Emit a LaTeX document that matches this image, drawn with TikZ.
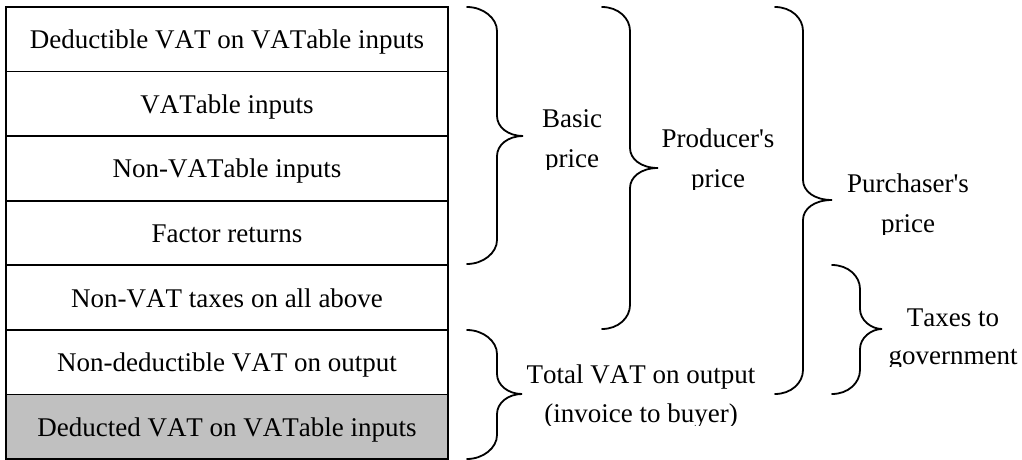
\documentclass[tikz,border=0pt]{standalone}
\usepackage{fontspec}
\setmainfont{Liberation Serif}[Kerning=Off]
\definecolor{shade}{HTML}{C0C0C0}

% two centred lines whose baseline is that of the first line
\newcommand\twoline[2]{\begin{tabular}[t]{@{}c@{}}#1\\#2\end{tabular}}

% right-opening curly brace: x of ends, x of spine, x of tip, y top, y tip, y bottom
\newcommand\bracepath[6]{%
  \draw[bracestroke] (#1,#4) .. controls ({#1+16},#4) and (#2,{#4+11}) .. (#2,{#4+24})
    -- (#2,{#5-20}) .. controls (#2,{#5-9}) and ({#2+11},#5) .. (#3,#5)
    .. controls ({#2+11},#5) and (#2,{#5+9}) .. (#2,{#5+20})
    -- (#2,{#6-24}) .. controls (#2,{#6-11}) and ({#1+16},#6) .. (#1,#6);}

\begin{document}
\begin{tikzpicture}[x=1pt,y=-1pt,
  row/.style={draw, line width=1.6pt, minimum width=442pt, minimum height=64.57pt,
    inner sep=0pt, text height=19pt, text depth=0pt, font=\fontsize{27}{32}\selectfont},
  lbl/.style={anchor=base, inner sep=0pt, font=\fontsize{27}{40}\selectfont},
  bracestroke/.style={line width=1.8pt, line cap=round}]
\useasboundingbox (0,0) rectangle (1022,460);

% stacked price components
\node[row] (r1) at (227,39.29)  {Deductible VAT on VATable inputs};
\node[row] (r2) at (227,103.86) {VATable inputs};
\node[row] (r3) at (227,168.43) {Non-VATable inputs};
\node[row] (r4) at (227,233.00) {Factor returns};
\node[row] (r5) at (227,297.57) {Non-VAT taxes on all above};
\node[row] (r6) at (227,362.14) {Non-deductible VAT on output};
\node[row, fill=shade] (r7) at (227,426.71) {Deducted VAT on VATable inputs};

% braces grouping the rows
\bracepath{467}{497}{523}{7}{136}{264}
\bracepath{602}{630}{658}{7}{168}{329}
\bracepath{775}{803}{832}{7}{200}{394}
\bracepath{832}{860}{882}{265}{329}{394}
\bracepath{467}{497}{522}{330}{394}{459}

% brace labels (descenders of the last line are cut off)
\begin{scope}
  \clip (500,90) rectangle (650,169);
  \node[lbl] (basic) at (572,127) {\twoline{Basic}{price}};
\end{scope}
\begin{scope}
  \clip (650,110) rectangle (790,189);
  \node[lbl] (producer) at (718,147) {\twoline{Producer\textquotesingle s}{price}};
\end{scope}
\begin{scope}
  \clip (830,155) rectangle (990,234);
  \node[lbl] (purchaser) at (908,192) {\twoline{Purchaser\textquotesingle s}{price}};
\end{scope}
\begin{scope}
  \clip (880,290) rectangle (1022,366);
  \node[lbl, font=\fontsize{27}{38}\selectfont] (taxes) at (953,326) {\twoline{Taxes to}{government}};
\end{scope}
\begin{scope}
  \clip (524,345) rectangle (760,425);
  \node[lbl, font=\fontsize{27}{39}\selectfont] (totalvat) at (641,383) {\twoline{Total VAT on output}{(invoice to buyer)}};
\end{scope}
\end{tikzpicture}
\end{document}
